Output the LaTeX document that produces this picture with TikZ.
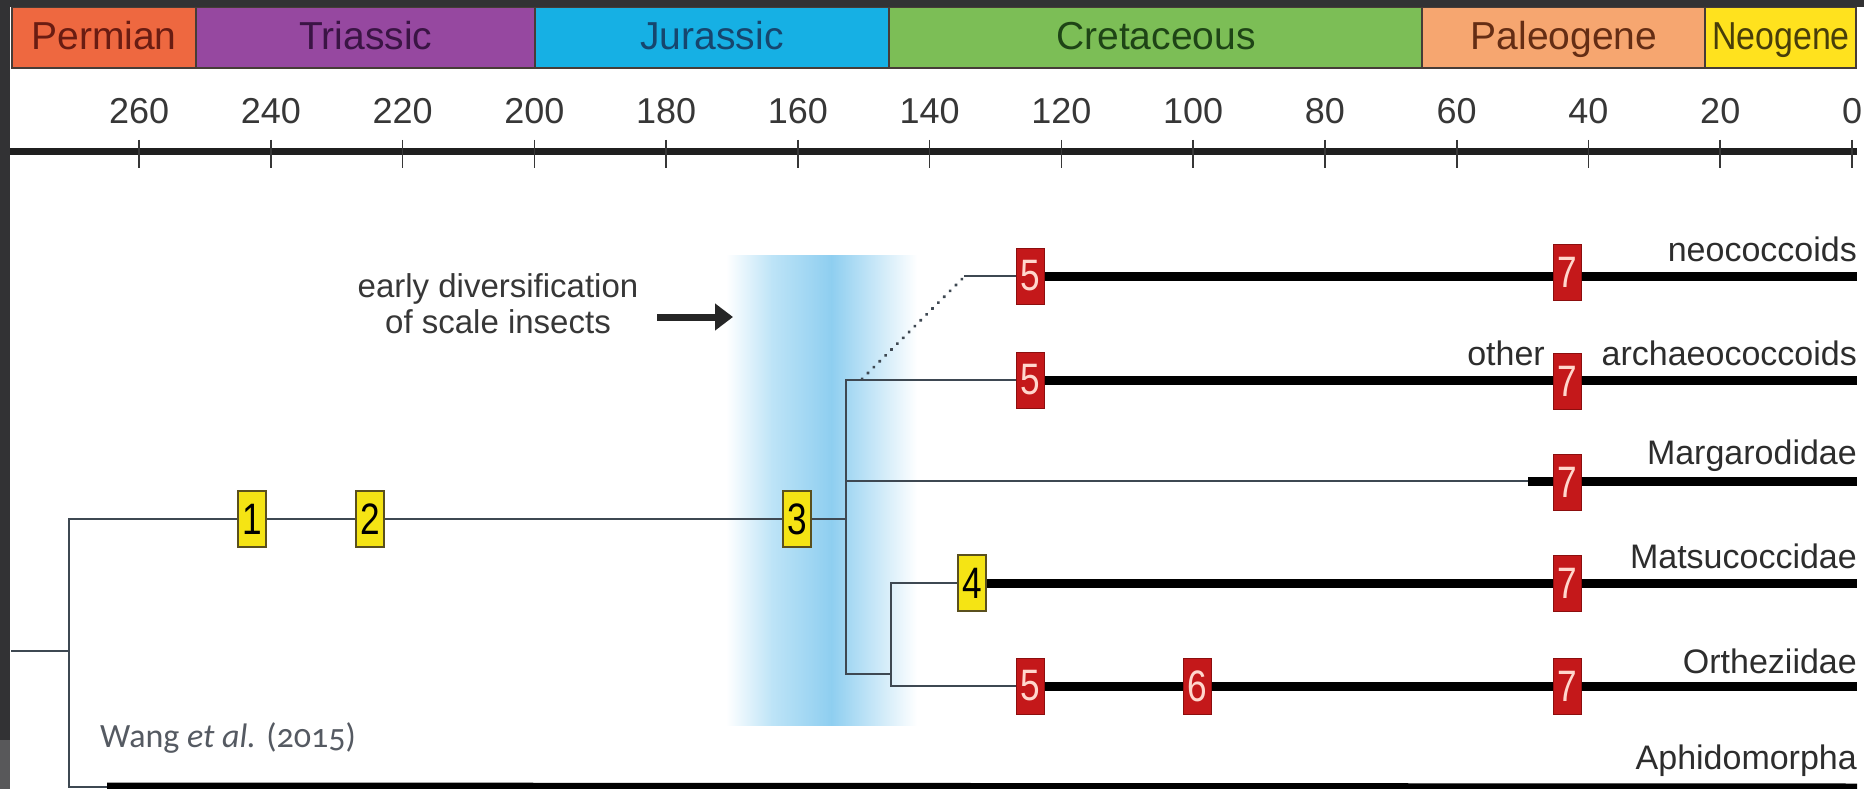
\documentclass[tikz,border=0pt]{standalone}
\usepackage{fontspec}
\setmainfont{Liberation Sans}
\newfontfamily\narrowfont[FakeStretch=0.8]{Liberation Sans}
\newfontfamily\semifont[FakeStretch=0.87]{Liberation Sans}
\newfontfamily\credfont[Numbers=OldStyle]{Carlito}
\usetikzlibrary{arrows.meta}
\pgfdeclarelayer{bandlayer}
\pgfdeclarelayer{linelayer}
\pgfsetlayers{bandlayer,linelayer,main}
\definecolor{framedark}{RGB}{50,50,52}
\definecolor{framegray}{RGB}{88,88,90}
\definecolor{periodedge}{RGB}{70,60,55}
\definecolor{cPerm}{RGB}{238,104,64}\definecolor{tPerm}{RGB}{105,28,18}
\definecolor{cTria}{RGB}{150,72,160}\definecolor{tTria}{RGB}{58,20,68}
\definecolor{cJura}{RGB}{22,176,228}\definecolor{tJura}{RGB}{22,70,110}
\definecolor{cCret}{RGB}{124,190,86}\definecolor{tCret}{RGB}{30,68,22}
\definecolor{cPale}{RGB}{246,166,112}\definecolor{tPale}{RGB}{100,45,20}
\definecolor{cNeog}{RGB}{255,226,30}\definecolor{tNeog}{RGB}{72,62,10}
\definecolor{labgray}{RGB}{55,55,55}
\definecolor{taxgray}{RGB}{45,45,45}
\definecolor{branchc}{RGB}{62,72,82}
\definecolor{ymarkfill}{RGB}{245,228,20}
\definecolor{ymarkedge}{RGB}{90,80,30}
\definecolor{rmarkfill}{RGB}{196,24,26}
\definecolor{rmarkedge}{RGB}{140,14,14}
\definecolor{rmarktext}{RGB}{255,215,205}
\definecolor{bandA}{RGB}{190,228,247}
\definecolor{bandB}{RGB}{142,206,240}
\definecolor{credgray}{RGB}{85,90,98}
\begin{document}
\begin{tikzpicture}[x=1pt,y=-1pt,
  periodbox/.style={draw=periodedge, line width=2pt},
  ptext/.style={font=\fontsize{39}{39}\selectfont, inner sep=0pt, anchor=base},
  ticklabel/.style={font=\fontsize{36}{36}\selectfont, text=labgray, inner sep=0pt, anchor=base},
  tickline/.style={draw=labgray, line width=1.6pt},
  taxon/.style={font=\fontsize{34}{34}\selectfont, text=taxgray, inner sep=0pt, anchor=base east},
  divtext/.style={font=\fontsize{33}{33}\selectfont, text=labgray, inner sep=0pt, anchor=base},
  ymark/.style={draw=ymarkedge, line width=1.5pt, fill=ymarkfill, minimum width=28pt, minimum height=56pt, inner sep=0pt, font=\narrowfont\fontsize{44}{44}\selectfont, text=black},
  rmark/.style={draw=rmarkedge, line width=1pt, fill=rmarkfill, minimum width=28pt, minimum height=56pt, inner sep=0pt, font=\narrowfont\fontsize{44}{44}\selectfont, text=rmarktext},
  branch/.style={draw=branchc, line width=1.8pt, line cap=rect},
  lineage/.style={draw=black, line width=9pt},
  dotbranch/.style={draw=branchc, line width=3.4pt, line cap=round, dash pattern=on 0.3pt off 8pt},
  bigarrow/.style={draw=black!85, line width=7pt, -{Triangle[length=18pt,width=26pt]}}
]
\useasboundingbox (0,0) rectangle (1864,789);

% background and blue band
\begin{pgfonlayer}{bandlayer}
\fill[white] (0,0) rectangle (1864,789);
\shade[left color=white, right color=bandA] (726,255) rectangle (772,725);
\shade[left color=bandA, right color=bandB] (771,255) rectangle (832,725);
\shade[left color=bandB, right color=white] (831,255) rectangle (917,725);
\end{pgfonlayer}

% period bar
\draw[periodbox, fill=cPerm] (12,7) rectangle (196,68);
\draw[periodbox, fill=cTria] (196,7) rectangle (535,68);
\draw[periodbox, fill=cJura] (535,7) rectangle (889,68);
\draw[periodbox, fill=cCret] (889,7) rectangle (1422,68);
\draw[periodbox, fill=cPale] (1422,7) rectangle (1705,68);
\draw[periodbox, fill=cNeog] (1705,7) rectangle (1856,68);
\node[ptext, text=tPerm] (perm) at (104,50) {Permian};
\node[ptext, text=tTria] (tria) at (366,50) {Triassic};
\node[ptext, text=tJura] (jura) at (712,50) {Jurassic};
\node[ptext, text=tCret] (cret) at (1156,50) {Cretaceous};
\node[ptext, text=tPale] (pale) at (1564,50) {Paleogene};
\node[ptext, text=tNeog, font=\semifont\fontsize{39}{39}\selectfont] (neog) at (1781,50) {Neogene};

% time axis
\draw[draw=black!88, line width=7pt] (10,152) -- (1857,152);
\foreach \t in {0,20,...,260} {
  \pgfmathsetmacro\xx{1852-6.588*\t}
  \draw[tickline] (\xx,140) -- (\xx,168);
  \node[ticklabel] (tl\t) at (\xx,124) {\t};
}

% markers
\node[ymark] (m1) at (252,519) {1};
\node[ymark] (m2) at (370,519) {2};
\node[ymark] (m3) at (797,519) {3};
\node[ymark] (m4) at (972,583) {4};
\node[rmark] (n5) at (1030,276) {5};
\node[rmark] (n7) at (1567,272) {7};
\node[rmark] (a5) at (1030,380) {5};
\node[rmark] (a7) at (1567,381) {7};
\node[rmark] (g7) at (1567,482) {7};
\node[rmark] (t7) at (1567,583) {7};
\node[rmark] (o5) at (1030,686) {5};
\node[rmark] (o6) at (1197,686) {6};
\node[rmark] (o7) at (1567,686) {7};

% branch points
\coordinate (rs) at (12,651);
\coordinate (r) at (69,651);
\coordinate (rtop) at (69,519);
\coordinate (rbot) at (69,787);
\coordinate (n3) at (846,519);
\coordinate (n3top) at (846,380);
\coordinate (n3bot) at (846,674);
\coordinate (dotA) at (862,379);
\coordinate (neoStart) at (965,276);
\coordinate (margStart) at (846,481);
\coordinate (margThick) at (1528,481);
\coordinate (n4) at (891,674);
\coordinate (n4top) at (891,583);
\coordinate (n4bot) at (891,686);
\coordinate (aphThick) at (107,787);
\coordinate (eNeo) at (1857,276);
\coordinate (eArc) at (1857,380);
\coordinate (eMar) at (1857,481);
\coordinate (eMat) at (1857,583);
\coordinate (eOrt) at (1857,686);
\coordinate (eAph) at (1857,788);

\begin{pgfonlayer}{linelayer}
\draw[branch] (rs) -- (r);
\draw[branch] (rtop) -- (rbot);
\draw[branch] (rtop) -- (n3);
\draw[branch] (n3top) -- (n3bot);
\draw[branch] (n3top) -- (a5);
\draw[lineage] (a5) -- (eArc);
\draw[dotbranch] (dotA) -- (neoStart);
\draw[branch] (neoStart) -- (n5);
\draw[lineage] (n5) -- (eNeo);
\draw[branch] (margStart) -- (margThick);
\draw[lineage] (margThick) -- (eMar);
\draw[branch] (n3bot) -- (n4);
\draw[branch] (n4top) -- (n4bot);
\draw[branch] (n4top) -- (m4);
\draw[lineage] (m4) -- (eMat);
\draw[branch] (n4bot) -- (o5);
\draw[lineage] (o5) -- (eOrt);
\draw[branch] (rbot) -- (aphThick);
\draw[lineage] (aphThick) -- (eAph);
\end{pgfonlayer}

% taxon labels
\node[taxon] (lneo) at (1857,261) {neococcoids};
\node[taxon] (loth) at (1545,365) {other};
\node[taxon] (larc) at (1857,365) {archaeococcoids};
\node[taxon] (lmar) at (1857,464) {Margarodidae};
\node[taxon] (lmat) at (1857,568) {Matsucoccidae};
\node[taxon] (lort) at (1857,673) {Ortheziidae};
\node[taxon] (laph) at (1857,769) {Aphidomorpha};

% annotation
\node[divtext] (div1) at (498,297) {early diversification};
\node[divtext] (div2) at (498,333) {of scale insects};
\coordinate (arrowstart) at (657,317);
\coordinate (arrowtip) at (733,317);
\draw[bigarrow] (arrowstart) -- (arrowtip);

% credit
\node[font=\credfont\fontsize{34}{34}\selectfont, text=credgray, inner sep=0pt, anchor=base west] (cred) at (100,747) {Wang \textit{et al.} (2015)};

% frame
\fill[framedark] (0,0) rectangle (1864,7);
\fill[framedark] (0,0) rectangle (10,740);
\fill[framegray] (0,740) rectangle (10,789);
\end{tikzpicture}
\end{document}
